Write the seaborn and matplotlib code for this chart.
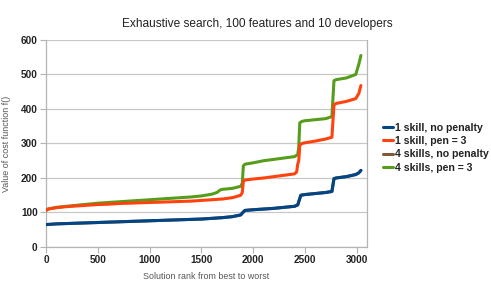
import matplotlib
matplotlib.use("Agg")
import matplotlib.pyplot as plt
import seaborn as sns
import pandas as pd

# ---- data ----
series_names = ["1 skill, no penalty", "1 skill, pen = 3",
                "4 skills, no penalty", "4 skills, pen = 3"]
colors = ["#004586", "#ff420e", "#7e5a3a", "#579d1c"]

blue_x = [0, 100, 200, 300, 400, 500, 600, 700, 800, 900, 1000, 1100, 1200, 1300,
          1400, 1500, 1600, 1700, 1800, 1880, 1900, 1920, 2000, 2100, 2200, 2300,
          2400, 2430, 2460, 2500, 2600, 2700, 2760, 2780, 2800, 2900, 2990, 3020, 3040]
blue_y = [65, 67, 68, 69, 70, 71, 72, 73, 74, 75, 76, 77, 78, 79,
          80, 81, 83, 85, 88, 93, 100, 106, 108, 110, 112, 115,
          118, 122, 150, 152, 155, 158, 161, 198, 200, 204, 210, 215, 222]

orange_x = [0, 20, 100, 200, 300, 400, 500, 600, 700, 800, 900, 1000, 1100, 1200,
            1300, 1400, 1500, 1600, 1700, 1800, 1880, 1895, 1905, 1920, 2000, 2100,
            2200, 2300, 2400, 2420, 2430, 2440, 2450, 2470, 2500, 2600, 2700, 2760,
            2780, 2800, 2900, 2990, 3020, 3040]
orange_y = [106, 110, 114, 117, 119, 121, 123, 124, 126, 127, 128, 129, 130, 131,
            132, 133, 135, 137, 139, 143, 150, 158, 190, 194, 197, 200,
            204, 208, 212, 218, 240, 250, 295, 300, 302, 307, 313, 318,
            412, 416, 422, 430, 445, 468]

# "4 skills, no penalty" coincides with the blue curve (hidden underneath)
brown_x = list(blue_x)
brown_y = list(blue_y)

green_x = [0, 20, 100, 200, 300, 400, 500, 600, 700, 800, 900, 1000, 1100, 1200,
           1300, 1400, 1500, 1600, 1650, 1680, 1700, 1800, 1880, 1895, 1905, 1920,
           2000, 2100, 2200, 2300, 2400, 2430, 2440, 2450, 2470, 2500, 2600, 2700,
           2760, 2780, 2800, 2900, 2990, 3020, 3040]
green_y = [106, 110, 115, 118, 121, 124, 127, 129, 131, 133, 135, 137, 139, 141,
           143, 145, 148, 153, 158, 165, 167, 170, 176, 185, 235, 240,
           244, 250, 254, 258, 262, 268, 290, 360, 364, 366, 369, 372,
           378, 482, 485, 490, 500, 530, 555]

x_ticks = [0, 500, 1000, 1500, 2000, 2500, 3000]
y_ticks = [0, 100, 200, 300, 400, 500, 600]

title = "Exhaustive search, 100 features and 10 developers"
xlabel = "Solution rank from best to worst"
ylabel = "Value of cost function f()"

# ---- build long table ----
frames = []
for name, xs, ys in zip(series_names,
                        [blue_x, orange_x, brown_x, green_x],
                        [blue_y, orange_y, brown_y, green_y]):
    frames.append(pd.DataFrame({"rank": xs, "cost": ys, "series": name}))
df = pd.concat(frames, ignore_index=True)

sns.set_theme(style="white")
plt.rcParams["font.family"] = ["Liberation Sans", "DejaVu Sans"]

fig = plt.figure(figsize=(4.91, 2.83), dpi=100)
ax = fig.add_axes([0.0937, 0.1272, 0.654, 0.7315])

palette = dict(zip(series_names, colors))
draw_order = ["4 skills, no penalty", "1 skill, no penalty", "4 skills, pen = 3", "1 skill, pen = 3"]
for z, name in enumerate(draw_order):
    sub = df[df["series"] == name]
    sns.lineplot(data=sub, x="rank", y="cost", color=palette[name], lw=2.2,
                 estimator=None, sort=False, ax=ax, zorder=3 + z, legend=False)

ax.set_xlim(0, 3100)
ax.set_ylim(0, 600)
ax.set_xticks(x_ticks)
ax.set_yticks(y_ticks)
ax.grid(axis="y", color="#c8c8c8", lw=0.9)
ax.grid(axis="x", visible=False)
for s in ax.spines.values():
    s.set_color("#b4b4b4")
    s.set_linewidth(0.9)
ax.spines["top"].set_visible(False)
ax.tick_params(axis="both", which="both", length=4, width=0.8, color="#b4b4b4",
               labelsize=7.2, labelcolor="#222222", pad=2, bottom=True, left=True)
for lab in ax.get_xticklabels() + ax.get_yticklabels():
    lab.set_fontweight("bold")

ax.set_xlabel(xlabel, fontsize=6.4, color="#555555", labelpad=5)
ax.set_ylabel(ylabel, fontsize=6.4, color="#555555", labelpad=7)

fig.text(0.525, 0.915, title, ha="center", va="center", fontsize=8.6, color="#222222")

from matplotlib.lines import Line2D
handles = [Line2D([0], [0], color=c, lw=2.2) for c in colors]
leg = ax.legend(handles, series_names, loc="center left",
                bbox_to_anchor=(1.02, 0.48), frameon=False,
                handlelength=0.95, handletextpad=0.2, labelspacing=0.32,
                prop={"weight": "bold", "size": 7.6})
for t in leg.get_texts():
    t.set_color("#222222")

fig.savefig("out.png", dpi=100)
